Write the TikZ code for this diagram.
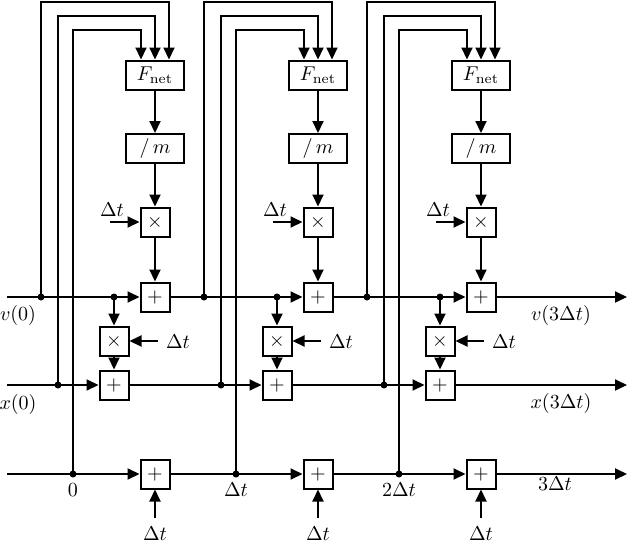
\documentclass[tikz,border=0pt]{standalone}
\usetikzlibrary{arrows.meta}
\begin{document}
\begin{tikzpicture}[x=0.5pt,y=-0.5pt,
  flow/.style={-{Triangle[length=6pt,width=5.5pt]},line width=1pt},
  bigbox/.style={draw,line width=1pt,minimum width=29pt,minimum height=14.5pt,inner sep=0pt},
  opbox/.style={draw,line width=1pt,minimum size=14.5pt,inner sep=0pt},
  dot/.style={circle,fill,inner sep=0pt,minimum size=3.5pt},
  txt/.style={inner sep=1pt},
]
\useasboundingbox (0,0) rectangle (628,542);
\coordinate (vin) at (7,297);
\coordinate (xin) at (7,385);
\coordinate (tin) at (7,474);
\coordinate (vout) at (627,297);
\coordinate (xout) at (627,385);
\coordinate (tout) at (627,474);
\node[txt] (v0) at (18,315) {$v(0)$};
\node[txt] (x0) at (18,404) {$x(0)$};
\node[txt] (v3) at (561,315) {$v(3\Delta t)$};
\node[txt] (x3) at (561,403) {$x(3\Delta t)$};
\node[txt] (t3) at (555,484) {$3\Delta t$};
\foreach \i/\tl [evaluate=\i as \ox using 163*(\i-1)] in {1/0,2/\Delta t,3/2\Delta t}{
  \node[bigbox] (fnet\i) at (155+\ox,75) {$F_{\mathrm{net}}$};
  \node[bigbox] (divm\i) at (155+\ox,148.5) {$/\,m$};
  \node[opbox] (mulv\i) at (155+\ox,222) {$\times$};
  \node[opbox] (addv\i) at (155+\ox,297) {$+$};
  \node[opbox] (mulx\i) at (114+\ox,341) {$\times$};
  \node[opbox] (addx\i) at (114+\ox,385) {$+$};
  \node[opbox] (addt\i) at (155+\ox,474) {$+$};
  \node[dot] (dv\i) at (41+\ox,297) {};
  \node[dot] (dx\i) at (58+\ox,385) {};
  \node[dot] (dt\i) at (73+\ox,474) {};
  \node[dot] (sv\i) at (114+\ox,297) {};
  \coordinate (inv\i) at (110+\ox,222);
  \coordinate (inx\i) at (158+\ox,341);
  \coordinate (int\i) at (155+\ox,518);
  \node[txt] (dtv\i) at (112+\ox,210) {$\Delta t$};
  \node[txt] (dtx\i) at (178+\ox,342) {$\Delta t$};
  \node[txt] (dtt\i) at (155+\ox,534) {$\Delta t$};
  \node[txt] (tl\i) at (73+\ox,490) {$\tl$};
  \draw[flow] (dv\i.center) -- (dv\i |- 0,1.5) -| ([xshift=7pt]fnet\i.north);
  \draw[flow] (dx\i.center) -- (dx\i |- 0,16) -| (fnet\i.north);
  \draw[flow] (dt\i.center) -- (dt\i |- 0,30) -| ([xshift=-7pt]fnet\i.north);
  \draw[flow] (fnet\i) -- (divm\i);
  \draw[flow] (divm\i) -- (mulv\i);
  \draw[flow] (mulv\i) -- (addv\i);
  \draw[flow] (inv\i) -- (mulv\i);
  \draw[flow] (sv\i.center) -- (mulx\i);
  \draw[flow] (mulx\i) -- (addx\i);
  \draw[flow] (inx\i) -- (mulx\i);
  \draw[flow] (int\i) -- (addt\i);
}
\draw[flow] (vin) -- (addv1);
\draw[flow] (xin) -- (addx1);
\draw[flow] (tin) -- (addt1);
\foreach \i/\j in {1/2,2/3}{
  \draw[flow] (addv\i) -- (addv\j);
  \draw[flow] (addx\i) -- (addx\j);
  \draw[flow] (addt\i) -- (addt\j);
}
\draw[flow] (addv3) -- (vout);
\draw[flow] (addx3) -- (xout);
\draw[flow] (addt3) -- (tout);
\end{tikzpicture}
\end{document}
